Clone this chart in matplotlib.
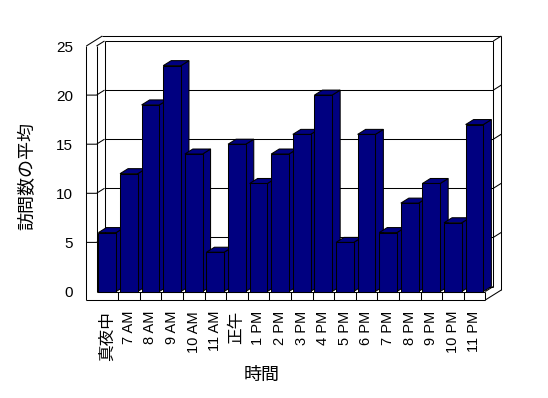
import matplotlib
matplotlib.use("Agg")
import matplotlib.pyplot as plt
from matplotlib.patches import Polygon
import numpy as np

plt.rcParams['font.family'] = ['Liberation Sans', 'Noto Sans CJK JP']

categories = ["真夜中", "7 AM", "8 AM", "9 AM", "10 AM", "11 AM", "正午",
              "1 PM", "2 PM", "3 PM", "4 PM", "5 PM", "6 PM", "7 PM",
              "8 PM", "9 PM", "10 PM", "11 PM"]
values = [6, 12, 19, 23, 14, 4, 15, 11, 14, 16, 20, 5, 16, 6, 9, 11, 7, 17]
y_ticks = [0, 5, 10, 15, 20, 25]
x_title = "時間"
y_title = "訪問数の平均"

W, H = 548, 398
fig = plt.figure(figsize=(W / 100, H / 100), dpi=100)
fig.patch.set_facecolor('white')

# front plane of the 3D box in pixel terms
x0_px, cat_px = 96.5, 21.6
y0_px, y25_px = 291.5, 46.0
n = len(categories)
ax = fig.add_axes([x0_px / W, 1 - y0_px / H, n * cat_px / W, (y0_px - y25_px) / H])
ax.set_xlim(0, n)
ax.set_ylim(0, 25)
ax.set_facecolor('none')
for s in ax.spines.values():
    s.set_visible(False)

px_per_unit = (y0_px - y25_px) / 25
ddx = 8 / cat_px          # depth offset in category units
ddy = 5 / px_per_unit     # depth offset in value units
Tx = 10.2 / cat_px        # left wall thickness
Ty = 8.5 / px_per_unit    # floor thickness
ymax = 25
lw = 0.75
navy = '#000080'


def line(xs, ys, z=1):
    ax.plot(xs, ys, color='black', lw=lw, clip_on=False, zorder=z,
            solid_capstyle='butt')


X = n
# walls
line([-Tx, -Tx], [-Ty, ymax])
line([0, 0], [0, ymax])
line([-Tx, -Tx + 2 * ddx], [ymax, ymax + 2 * ddy])
line([0, ddx], [ymax, ymax + ddy])
line([-Tx + 2 * ddx, X + 2 * ddx], [ymax + 2 * ddy, ymax + 2 * ddy])
line([ddx, X + ddx], [ymax + ddy, ymax + ddy])
line([ddx, ddx], [ddy, ymax + ddy])
line([X + ddx, X + ddx], [ddy, ymax + ddy])
line([X + 2 * ddx, X + 2 * ddx], [ymax + 2 * ddy, -Ty + 2 * ddy])
line([X + ddx, X + 2 * ddx], [ymax + ddy, ymax + 2 * ddy])
line([-Tx, X], [-Ty, -Ty])
line([0, X], [0, 0])
line([X, X], [0, -Ty])
line([X, X + 2 * ddx], [-Ty, -Ty + 2 * ddy])
line([X, X + ddx], [0, ddy])
line([ddx, X + ddx], [ddy, ddy])
for v in y_ticks[1:-1]:
    line([-Tx, 0, ddx], [v, v, v + ddy])
    line([ddx, X + ddx], [v + ddy, v + ddy])
    line([X + ddx, X + 2 * ddx], [v + ddy, v + 2 * ddy])

# bars
xs = np.arange(n) + 0.5
bw = 0.82
for x, v in zip(xs, values):
    xl, xr = x - bw / 2, x + bw / 2
    side = Polygon([(xr, 0), (xr + ddx, ddy), (xr + ddx, v + ddy), (xr, v)],
                   closed=True, facecolor=navy, edgecolor='black', lw=lw,
                   zorder=3, clip_on=False)
    top = Polygon([(xl, v), (xr, v), (xr + ddx, v + ddy), (xl + ddx, v + ddy)],
                  closed=True, facecolor=navy, edgecolor='black', lw=lw,
                  zorder=4, clip_on=False)
    ax.add_patch(side)
    ax.add_patch(top)
ax.bar(xs, values, width=bw, color=navy, edgecolor='black', linewidth=lw,
       zorder=5, clip_on=False)

# ticks & labels
ax.set_yticks(y_ticks)
ax.set_yticklabels([str(t) for t in y_ticks], fontsize=11)
ax.tick_params(axis='y', length=0, pad=16.9)
ax.set_xticks(xs)
ax.set_xticklabels(categories, rotation=90, fontsize=10.5)
for lab in ax.get_xticklabels():
    if any(ord(c) > 0x2000 for c in lab.get_text()):
        lab.set_fontsize(12)
ax.set_xticks(np.arange(1, n), minor=True)
ax.tick_params(axis='x', which='major', length=0, pad=14)
ax.tick_params(axis='x', which='minor', length=6.1, width=lw, direction='out')

fig.text(262 / W, 1 - 375 / H, x_title, ha='center', va='center', fontsize=13)
fig.text(27.5 / W, 1 - 176 / H, y_title, ha='center', va='center',
         fontsize=13, rotation=90)

fig.savefig('out.png', dpi=100, facecolor='white')
